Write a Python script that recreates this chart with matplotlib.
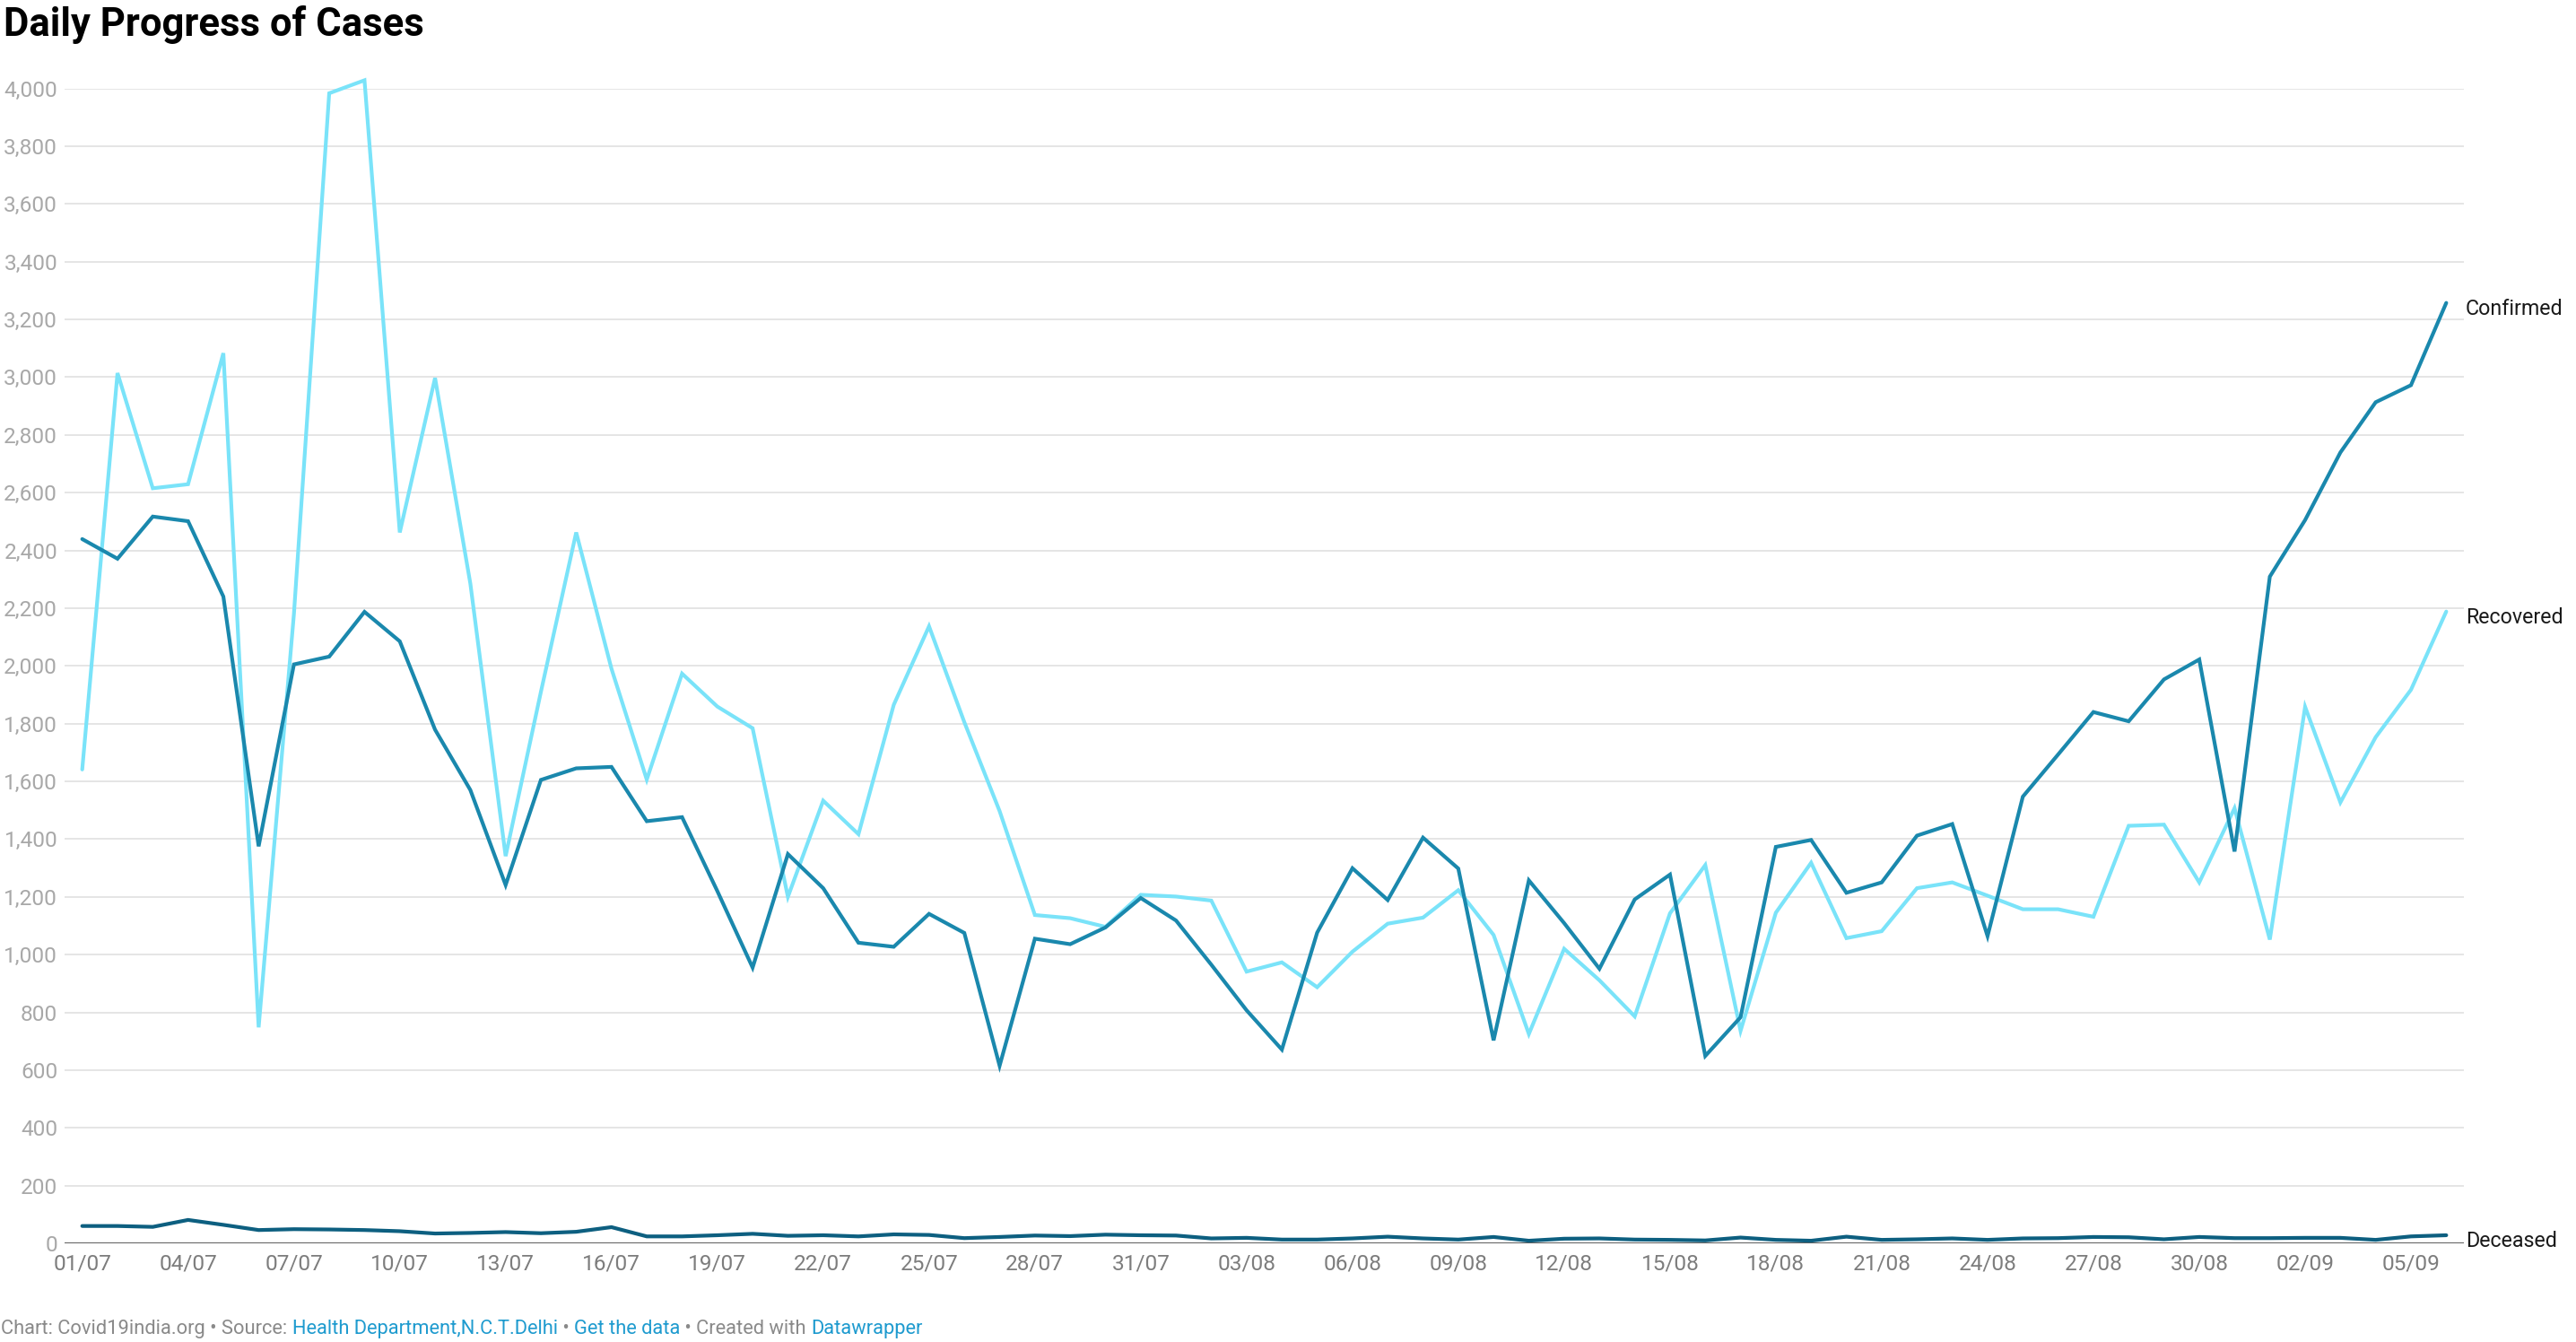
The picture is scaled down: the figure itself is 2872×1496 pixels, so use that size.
import matplotlib
matplotlib.use("Agg")
import matplotlib.pyplot as plt
from matplotlib.ticker import FuncFormatter
import numpy as np
import pandas as pd

plt.rcParams['font.family'] = ['Roboto', 'DejaVu Sans']

# ---------------- data ----------------
dates = pd.date_range("2020-07-01", "2020-09-06", freq="D")

confirmed = [2439, 2371, 2517, 2501, 2240, 1375, 2005, 2032, 2187, 2085,
             1779, 1570, 1241, 1605, 1645, 1650, 1462, 1476, 1220, 955,
             1348, 1230, 1041, 1027, 1141, 1075, 615, 1055, 1036, 1094,
             1196, 1118, 965, 807, 671, 1076, 1299, 1189, 1405, 1298,
             703, 1257, 1109, 951, 1191, 1277, 649, 783, 1373, 1397,
             1214, 1250, 1412, 1452, 1064, 1547, 1693, 1840, 1808, 1953,
             2022, 1357, 2309, 2505, 2739, 2913, 2972, 3257]

recovered = [1641, 3014, 2615, 2629, 3083, 748, 2180, 3983, 4028, 2462,
             2997, 2285, 1341, 1910, 2462, 1990, 1606, 1973, 1859, 1784,
             1200, 1533, 1417, 1865, 2137, 1805, 1497, 1137, 1126, 1096,
             1207, 1201, 1187, 941, 973, 887, 1010, 1107, 1128, 1223,
             1068, 725, 1020, 911, 786, 1143, 1310, 736, 1145, 1318,
             1057, 1081, 1230, 1250, 1204, 1157, 1157, 1131, 1446, 1450,
             1250, 1507, 1052, 1858, 1527, 1753, 1917, 2188]

deceased = [60, 60, 57, 81, 64, 46, 49, 48, 46, 42,
            34, 36, 39, 35, 40, 56, 24, 24, 28, 33,
            26, 28, 24, 31, 29, 18, 22, 27, 25, 30,
            28, 27, 17, 19, 13, 13, 17, 23, 17, 13,
            22, 9, 16, 17, 13, 12, 10, 20, 12, 9,
            23, 12, 14, 17, 12, 17, 18, 22, 21, 14,
            22, 18, 18, 19, 19, 12, 24, 28]

series_names = ["Recovered", "Confirmed", "Deceased"]
x_tick_labels = ["01/07", "04/07", "07/07", "10/07", "13/07", "16/07", "19/07",
                 "22/07", "25/07", "28/07", "31/07", "03/08", "06/08", "09/08",
                 "12/08", "15/08", "18/08", "21/08", "24/08", "27/08", "30/08",
                 "02/09", "05/09"]
y_ticks = list(range(0, 4001, 200))

title = "Daily Progress of Cases"
footer_parts = [("Chart: Covid19india.org \u2022 Source: ", "#8a8a8a"),
                ("Health Department,N.C.T.Delhi", "#1f9bcf"),
                (" \u2022 ", "#8a8a8a"),
                ("Get the data", "#1f9bcf"),
                (" \u2022 Created with ", "#8a8a8a"),
                ("Datawrapper", "#1f9bcf")]

# ---------------- styling ----------------
W, H = 2872, 1496
DPI = 200
fig = plt.figure(figsize=(W / DPI, H / DPI), dpi=DPI)
fig.patch.set_facecolor("white")

left_px, right_px = 72, 2747
top_px, bottom_px = 98.5, 1386
ax = fig.add_axes([left_px / W, 1 - bottom_px / H,
                   (right_px - left_px) / W, (bottom_px - top_px) / H])

colors = {"Confirmed": "#1a88ad", "Recovered": "#7ae3f9", "Deceased": "#0d5f80"}
values = {"Confirmed": confirmed, "Recovered": recovered, "Deceased": deceased}

for name in series_names:
    ax.plot(dates, values[name], color=colors[name], lw=1.5,
            solid_joinstyle="miter", solid_capstyle="round", clip_on=False, zorder=3)

half = pd.Timedelta(hours=12)
ax.set_xlim(dates[0] - half, dates[-1] + half)
ax.set_ylim(0, 4000)

ax.set_yticks(y_ticks)
ax.yaxis.set_major_formatter(FuncFormatter(lambda v, p: f"{int(v):,}"))
ax.yaxis.grid(True, color="#e5e5e5", lw=0.7, zorder=0)
ax.xaxis.grid(False)
ax.set_axisbelow(True)
ax.axhline(0, color="#333333", lw=0.9, zorder=2)

ax.set_xticks(dates[::3])
ax.set_xticklabels(x_tick_labels)

for s in ax.spines.values():
    s.set_visible(False)
ax.tick_params(axis="both", length=0)
ax.tick_params(axis="y", pad=2.8, labelsize=8.8, labelcolor="#a8a8a8")
ax.tick_params(axis="x", pad=4.0, labelsize=8.8, labelcolor="#7d7d7d")

# end labels
for name in series_names:
    ax.annotate(name, xy=(1, values[name][-1]), xycoords=("axes fraction", "data"),
                xytext=(0.6, -2.4), textcoords="offset points", ha="left", va="center",
                fontsize=8.4, color="#1a1a1a", annotation_clip=False)

# title
fig.text(0.0015, 1 - 40 / H, title, fontsize=15.7, fontweight="bold",
         color="#000000", ha="left", va="baseline")

# footer with multiple colours
fig.canvas.draw()
renderer = fig.canvas.get_renderer()
xpos = 1.0 / W
ybase = 1 - 1487 / H
for txt, col in footer_parts:
    t = fig.text(xpos, ybase, txt, fontsize=7.9, color=col, ha="left", va="baseline")
    bb = t.get_window_extent(renderer=renderer)
    xpos = bb.x1 / W

fig.savefig("out.png", dpi=DPI, facecolor="white")
